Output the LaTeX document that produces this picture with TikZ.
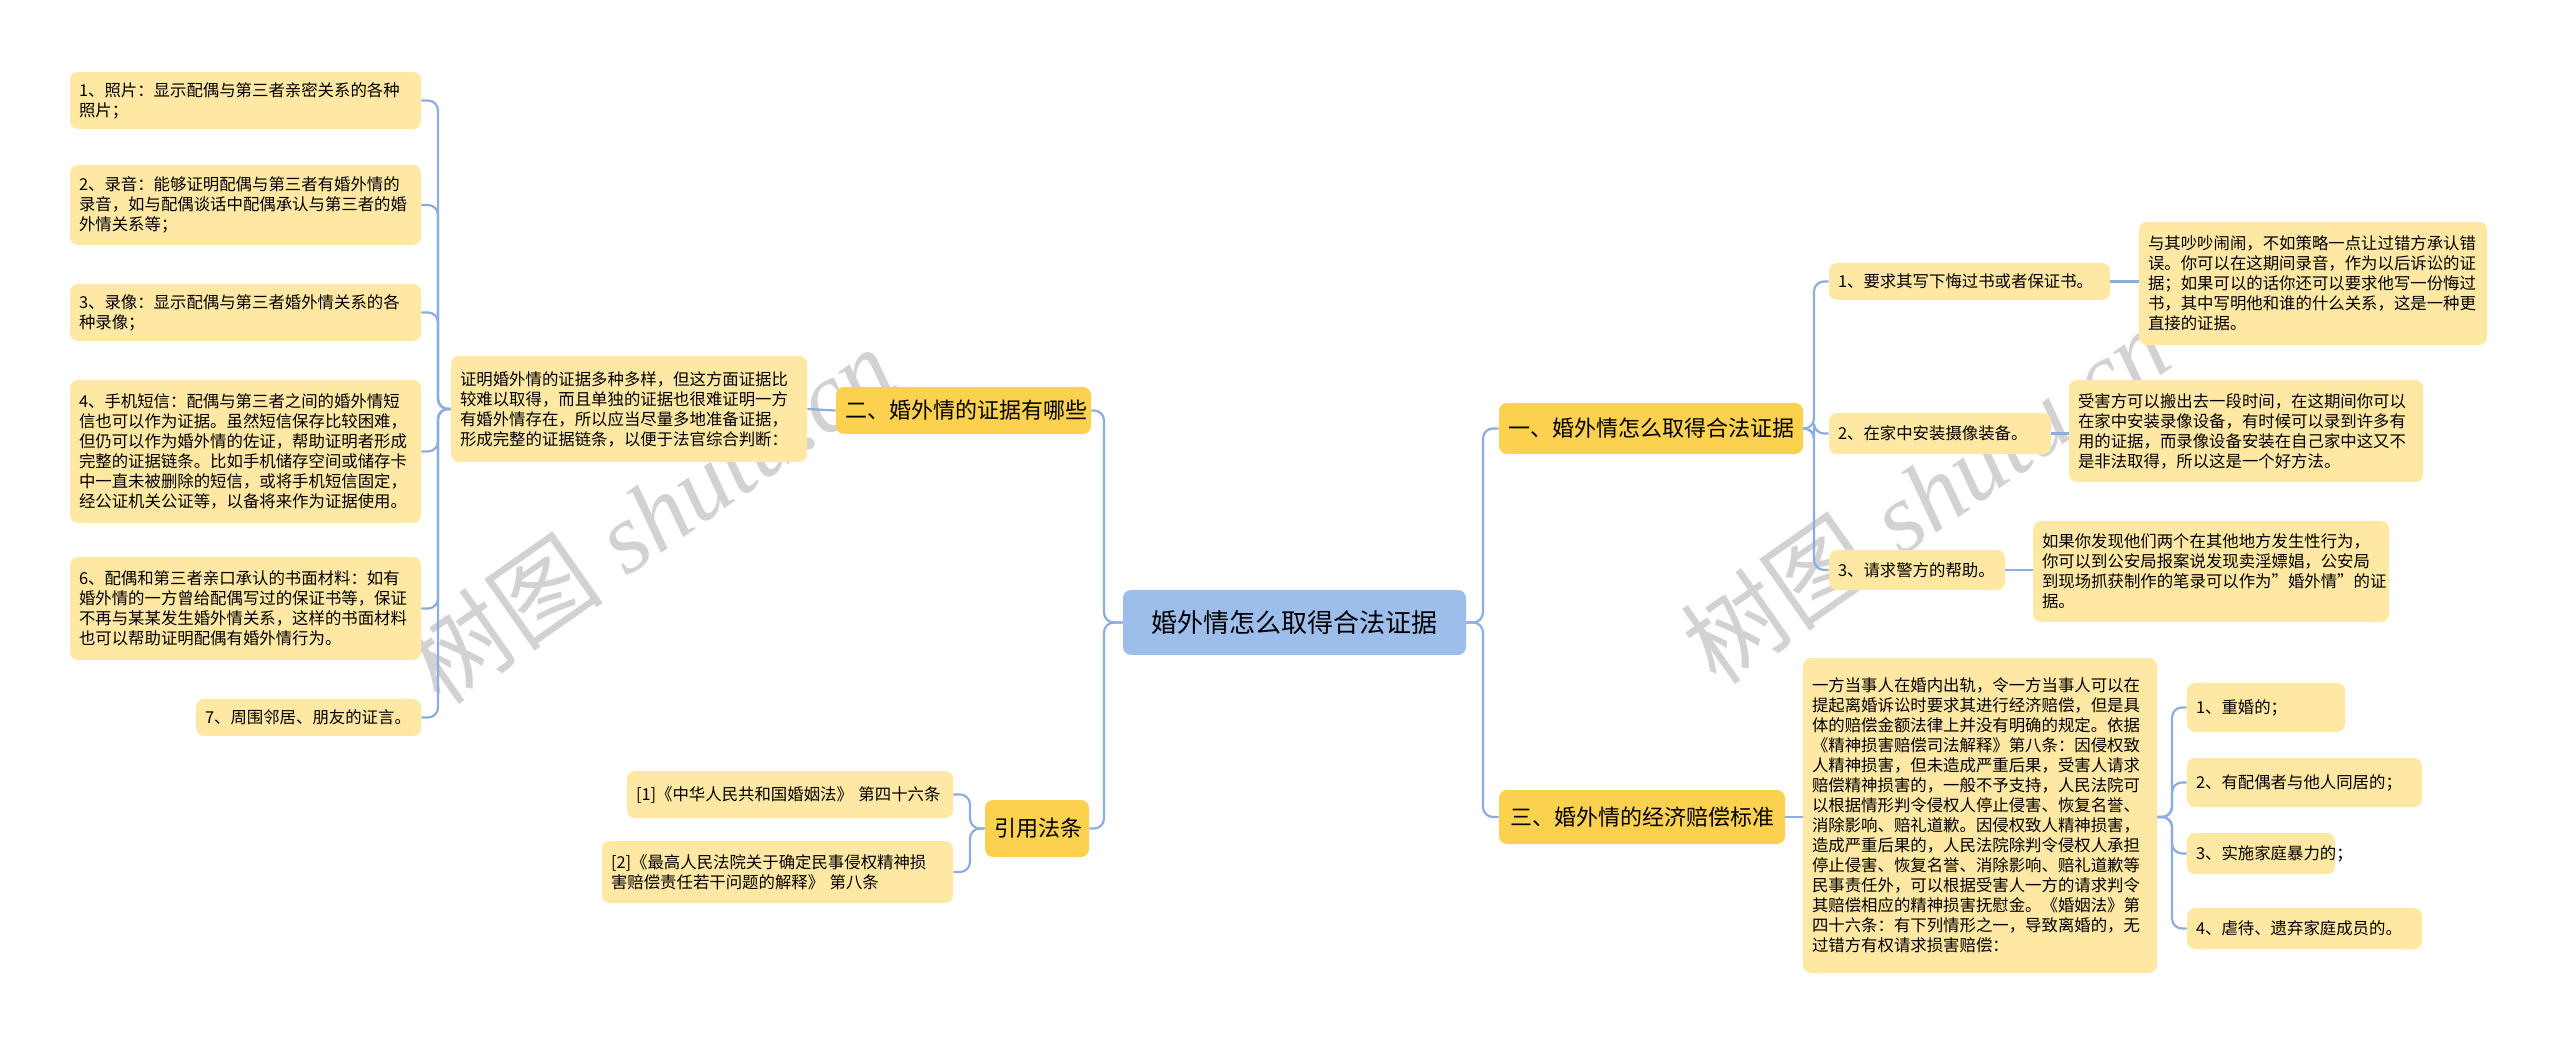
\documentclass[tikz,border=0pt]{standalone}
\usepackage{fontspec}
\setmainfont{Noto Sans CJK SC}
\newfontfamily\wmfont{Liberation Serif}
\definecolor{leaf}{HTML}{FFE8A3}
\definecolor{branch}{HTML}{FDD150}
\definecolor{rootc}{HTML}{9DBDEB}
\definecolor{edge}{HTML}{8CAEDF}
\begin{document}
\begin{tikzpicture}[x=0.5pt,y=-0.5pt,
  box/.style={rounded corners=4pt,inner sep=0pt,align=left,anchor=center},
  leafbox/.style={box,fill=leaf,font=\fontsize{8.2}{10}\selectfont},
  branchbox/.style={box,fill=branch,font=\fontsize{11}{13}\selectfont,align=center},
  rootbox/.style={box,fill=rootc,font=\fontsize{13}{15}\selectfont,align=center},
  conn/.style={draw=edge,line width=1.1pt,rounded corners=5pt}]
\useasboundingbox (0,0) rectangle (2560,1047);
\newcommand\bx[7]{\node[#6,minimum width={(#4-#2)*0.5pt},minimum height={(#5-#3)*0.5pt},text width={(#4-#2)*0.5pt-9pt}] (#1) at ({(#2+#4)/2},{(#3+#5)/2}) {#7};}
% watermark
\node[rotate=35,text=gray!35,font=\wmfont\itshape\fontsize{50}{50}\selectfont] at (650,515) {{\rmfamily 树图} shutu.cn};
\node[rotate=35,text=gray!35,font=\wmfont\itshape\fontsize{50}{50}\selectfont] at (1925,495) {{\rmfamily 树图} shutu.cn};
% root
\bx{root}{1123}{590}{1466}{655}{rootbox}{婚外情怎么取得合法证据}
% left
\bx{b2}{836}{387}{1091}{434}{branchbox}{二、婚外情的证据有哪些}
\bx{d2}{451}{356}{807}{462}{leafbox}{证明婚外情的证据多种多样，但这方面证据比\\较难以取得，而且单独的证据也很难证明一方\\有婚外情存在，所以应当尽量多地准备证据，\\形成完整的证据链条，以便于法官综合判断：}
\bx{l1}{70}{72}{421}{129}{leafbox}{1、照片：显示配偶与第三者亲密关系的各种\\照片；}
\bx{l2}{70}{165}{421}{245}{leafbox}{2、录音：能够证明配偶与第三者有婚外情的\\录音，如与配偶谈话中配偶承认与第三者的婚\\外情关系等；}
\bx{l3}{70}{284}{421}{341}{leafbox}{3、录像：显示配偶与第三者婚外情关系的各\\种录像；}
\bx{l4}{70}{380}{421}{523}{leafbox}{4、手机短信：配偶与第三者之间的婚外情短\\信也可以作为证据。虽然短信保存比较困难，\\但仍可以作为婚外情的佐证，帮助证明者形成\\完整的证据链条。比如手机储存空间或储存卡\\中一直未被删除的短信，或将手机短信固定，\\经公证机关公证等，以备将来作为证据使用。}
\bx{l6}{70}{557}{421}{660}{leafbox}{6、配偶和第三者亲口承认的书面材料：如有\\婚外情的一方曾给配偶写过的保证书等，保证\\不再与某某发生婚外情关系，这样的书面材料\\也可以帮助证明配偶有婚外情行为。}
\bx{l7}{196}{699}{421}{736}{leafbox}{7、周围邻居、朋友的证言。}
\bx{bc}{985}{800}{1089}{857}{branchbox}{引用法条}
\bx{c1}{627}{771}{953}{818}{leafbox}{[1]《中华人民共和国婚姻法》 第四十六条}
\bx{c2}{602}{841}{953}{903}{leafbox}{[2]《最高人民法院关于确定民事侵权精神损\\害赔偿责任若干问题的解释》 第八条}
% right
\bx{b1}{1499}{403}{1803}{454}{branchbox}{一、婚外情怎么取得合法证据}
\bx{s1}{1829}{263}{2110}{300}{leafbox}{1、要求其写下悔过书或者保证书。}
\bx{e1}{2139}{222}{2487}{345}{leafbox}{与其吵吵闹闹，不如策略一点让过错方承认错\\误。你可以在这期间录音，作为以后诉讼的证\\据；如果可以的话你还可以要求他写一份悔过\\书，其中写明他和谁的什么关系，这是一种更\\直接的证据。}
\bx{s2}{1829}{413}{2051}{454}{leafbox}{2、在家中安装摄像装备。}
\bx{e2}{2069}{380}{2423}{482}{leafbox}{受害方可以搬出去一段时间，在这期间你可以\\在家中安装录像设备，有时候可以录到许多有\\用的证据，而录像设备安装在自己家中这又不\\是非法取得，所以这是一个好方法。}
\bx{s3}{1829}{550}{2005}{590}{leafbox}{3、请求警方的帮助。}
\bx{e3}{2033}{521}{2389}{622}{leafbox}{如果你发现他们两个在其他地方发生性行为，\\你可以到公安局报案说发现卖淫嫖娼，公安局\\到现场抓获制作的笔录可以作为"婚外情"的证\\据。}
\bx{b3}{1499}{790}{1785}{844}{branchbox}{三、婚外情的经济赔偿标准}
\bx{d3}{1803}{658}{2157}{973}{leafbox}{一方当事人在婚内出轨，令一方当事人可以在\\提起离婚诉讼时要求其进行经济赔偿，但是具\\体的赔偿金额法律上并没有明确的规定。依据\\《精神损害赔偿司法解释》第八条：因侵权致\\人精神损害，但未造成严重后果，受害人请求\\赔偿精神损害的，一般不予支持，人民法院可\\以根据情形判令侵权人停止侵害、恢复名誉、\\消除影响、赔礼道歉。因侵权致人精神损害，\\造成严重后果的，人民法院除判令侵权人承担\\停止侵害、恢复名誉、消除影响、赔礼道歉等\\民事责任外，可以根据受害人一方的请求判令\\其赔偿相应的精神损害抚慰金。《婚姻法》第\\四十六条：有下列情形之一，导致离婚的，无\\过错方有权请求损害赔偿：}
\bx{t1}{2187}{683}{2345}{732}{leafbox}{1、重婚的；}
\bx{t2}{2187}{758}{2422}{807}{leafbox}{2、有配偶者与他人同居的；}
\bx{t3}{2187}{833}{2335}{874}{leafbox}{3、实施家庭暴力的；}
\bx{t4}{2187}{908}{2422}{949}{leafbox}{4、虐待、遗弃家庭成员的。}
% trunks
\coordinate (TL) at (1104,0); \coordinate (TR) at (1483,0);
\coordinate (T2) at (438,0); \coordinate (TC) at (970,0);
\coordinate (T1) at (1814,0); \coordinate (T3) at (2172,0);
\foreach \c in {b2,bc} \draw[conn] (root.west) -- (root.west -| TL) |- (\c.east);
\foreach \c in {b1,b3} \draw[conn] (root.east) -- (root.east -| TR) |- (\c.west);
\draw[conn] (b2.west) -- (d2.east);
\foreach \c in {l1,l2,l3,l4,l6,l7} \draw[conn] (d2.west) -- (d2.west -| T2) |- (\c.east);
\foreach \c in {c1,c2} \draw[conn] (bc.west) -- (bc.west -| TC) |- (\c.east);
\foreach \c in {s1,s2,s3} \draw[conn] (b1.east) -- (b1.east -| T1) |- (\c.west);
\draw[conn] (s1.east) -- (e1.west |- s1.east);
\draw[conn] (s2.east) -- (e2.west |- s2.east);
\draw[conn] (s3.east) -- (e3.west |- s3.east);
\draw[conn] (b3.east) -- (d3.west |- b3.east);
\foreach \c in {t1,t2,t3,t4} \draw[conn] (d3.east |- b3.east) -- (T3 |- b3.east) |- (\c.west);
\end{tikzpicture}
\end{document}
